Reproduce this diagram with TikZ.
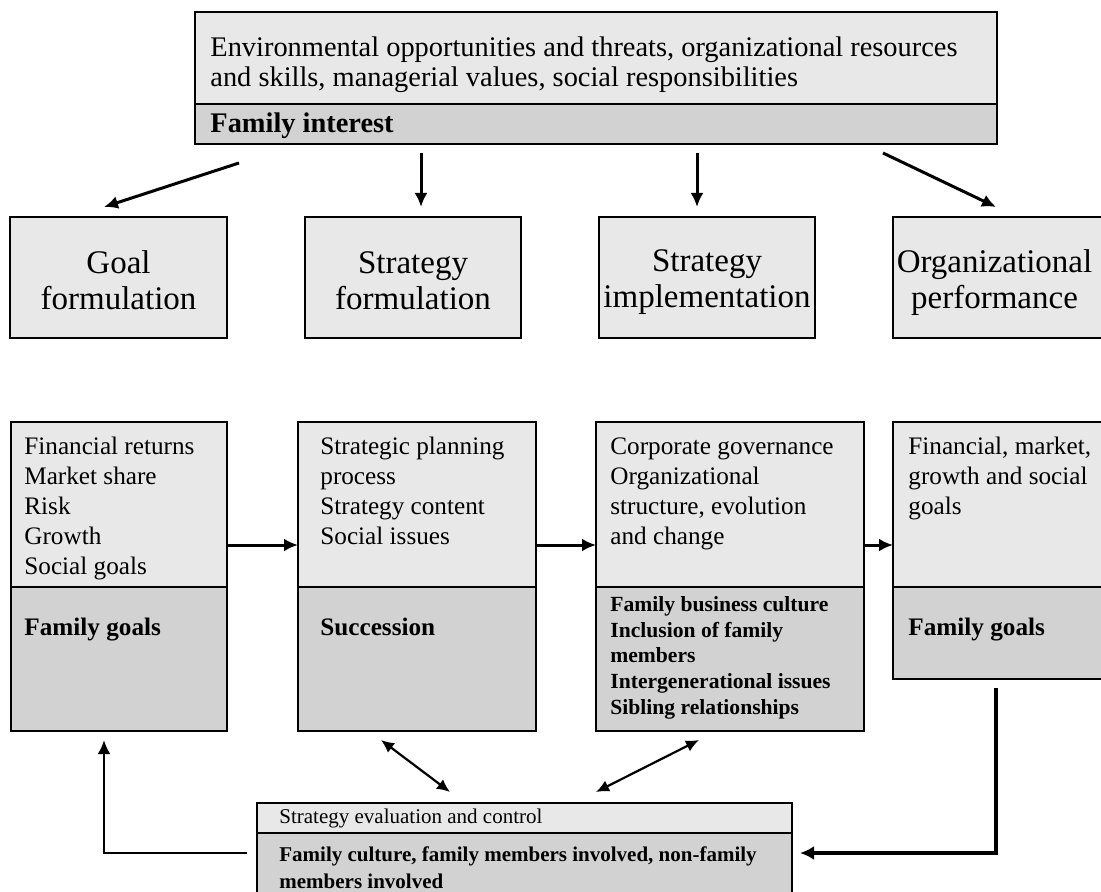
\documentclass[tikz,border=0pt]{standalone}
\usepackage{fontspec}
\setmainfont{Liberation Serif}
\usetikzlibrary{arrows.meta,fit}
\definecolor{paneltop}{HTML}{E8E8E8}
\definecolor{panelfam}{HTML}{D2D2D2}
\tikzset{
  panel/.style={draw=black, line width=0.8pt, fill=paneltop, inner sep=0pt, outer sep=0pt},
  fampanel/.style={panel, fill=panelfam},
  stagetext/.style={inner sep=0pt, align=center, font=\fontsize{16.5}{18}\selectfont},
  headtext/.style={anchor=north west, inner sep=0pt, align=left, font=\fontsize{14.2}{15}\selectfont},
  bodytext/.style={anchor=north west, inner sep=0pt, align=left, font=\fontsize{12.6}{15}\selectfont},
  famtext/.style={anchor=north west, inner sep=0pt, align=left, font=\fontsize{12.6}{15}\selectfont\bfseries},
  smallbold/.style={anchor=north west, inner sep=0pt, align=left, font=\fontsize{10.8}{12.9}\selectfont\bfseries},
  evaltext/.style={anchor=north west, inner sep=0pt, align=left, font=\fontsize{10.5}{13.5}\selectfont},
  evalbold/.style={anchor=north west, inner sep=0pt, align=left, font=\fontsize{10.5}{13.5}\selectfont\bfseries},
  flow/.style={line width=1.5pt, -{Latex[length=7pt,width=6.5pt]}},
  link/.style={line width=1.1pt, {Latex[length=6.5pt,width=6pt]}-{Latex[length=6.5pt,width=6pt]}},
  feedback/.style={line width=1.4pt, -{Latex[length=7pt,width=6.5pt]}},
  heavyfeedback/.style={line width=1.6pt, -{Latex[length=7pt,width=7pt]}}
}
\begin{document}
\begin{tikzpicture}[x=0.5pt,y=-0.5pt]
  \useasboundingbox (0,0) rectangle (1101,892);
  \clip (0,0) rectangle (1101,892);

  % influences on the whole process
  \node[panel, fit={(195,12) (997,104)}] (env) {};
  \node[fampanel, fit={(195,104) (997,144)}] (envfam) {};
  \node[headtext] (envtxt) at (210,36) {Environmental opportunities and threats, organizational resources\\and skills, managerial values, social responsibilities};
  \node[headtext, font=\fontsize{14.2}{15}\selectfont\bfseries] (envfamtxt) at (210,112) {Family interest};

  % the four stages
  \node[panel, fit={(10,217) (227,338)}] (goal) {};
  \node[panel, fit={(305,217) (521,338)}] (form) {};
  \node[panel, fit={(599,217) (815,338)}] (impl) {};
  \node[panel, fit={(893,217) (1104,338)}] (perf) {};
  \node[stagetext] (goaltxt) at ([yshift=-1.5pt]goal.center) {Goal\\formulation};
  \node[stagetext] (formtxt) at ([yshift=-1.5pt]form.center) {Strategy\\formulation};
  \node[stagetext] (impltxt) at ([yshift=-2.5pt]impl.center) {Strategy\\implementation};
  \node[stagetext] (perftxt) at ([xshift=-2pt,yshift=-2.5pt]perf.center) {Organizational\\performance};

  % stage contents
  \node[panel, fit={(11,422) (227,587)}] (g3) {};
  \node[fampanel, fit={(11,587) (227,731)}] (g3f) {};
  \node[panel, fit={(298,422) (536,587)}] (s3) {};
  \node[fampanel, fit={(298,587) (536,731)}] (s3f) {};
  \node[panel, fit={(596,422) (864,587)}] (c3) {};
  \node[fampanel, fit={(596,587) (864,731)}] (c3f) {};
  \node[panel, fit={(893,422) (1104,587)}] (o3) {};
  \node[fampanel, fit={(893,587) (1104,679)}] (o3f) {};

  \node[bodytext] (g3txt) at (24,437) {Financial returns\\Market share\\Risk\\Growth\\Social goals};
  \node[famtext] (g3ftxt) at (24,618) {Family goals};
  \node[bodytext] (s3txt) at (320,437) {Strategic planning\\process\\Strategy content\\Social issues};
  \node[famtext] (s3ftxt) at (320,618) {Succession};
  \node[bodytext] (c3txt) at (610,437) {Corporate governance\\Organizational\\structure, evolution\\and change};
  \node[smallbold] (c3ftxt) at (610,596) {Family business culture\\Inclusion of family\\members\\Intergenerational issues\\Sibling relationships};
  \node[bodytext] (o3txt) at (908,437) {Financial, market,\\growth and social\\goals};
  \node[famtext] (o3ftxt) at (908,618) {Family goals};

  % evaluation and control
  \node[panel, fit={(257,803) (792,833)}] (eval) {};
  \node[fampanel, fit={(257,833) (792,905)}] (evalf) {};
  \node[evaltext] (evaltxt) at (279,809) {Strategy evaluation and control};
  \node[evalbold] (evalftxt) at (279,846) {Family culture, family members involved, non-family\\members involved};

  % arrow end points
  \coordinate (e1) at (239,163);  \coordinate (e1t) at (104,207);
  \coordinate (e2) at (421,153);  \coordinate (e2t) at (421,207);
  \coordinate (e3) at (697,153);  \coordinate (e3t) at (697,207);
  \coordinate (e4) at (883,153);  \coordinate (e4t) at (996,207);
  \coordinate (row) at (0,545);
  \coordinate (l1a) at (381,740); \coordinate (l1b) at (450,792);
  \coordinate (l2a) at (699,740); \coordinate (l2b) at (596,792);
  \coordinate (fbl) at (247,853); \coordinate (fblc) at (104,853); \coordinate (fblt) at (104,740);
  \coordinate (fbr) at (996,688); \coordinate (fbrc) at (996,853); \coordinate (fbrt) at (800,853);

  \draw[flow] (e1) -- (e1t);
  \draw[flow] (e2) -- (e2t);
  \draw[flow] (e3) -- (e3t);
  \draw[flow] (e4) -- (e4t);

  \draw[flow] (g3.east |- row) -- (s3.west |- row);
  \draw[flow] (s3.east |- row) -- (c3.west |- row);
  \draw[flow] (c3.east |- row) -- (o3.west |- row);

  \draw[link] (l1a) -- (l1b);
  \draw[link] (l2a) -- (l2b);

  \draw[feedback] (fbl) -- (fblc) -- (fblt);
  \draw[heavyfeedback] (fbr) -- (fbrc) -- (fbrt);
\end{tikzpicture}
\end{document}
